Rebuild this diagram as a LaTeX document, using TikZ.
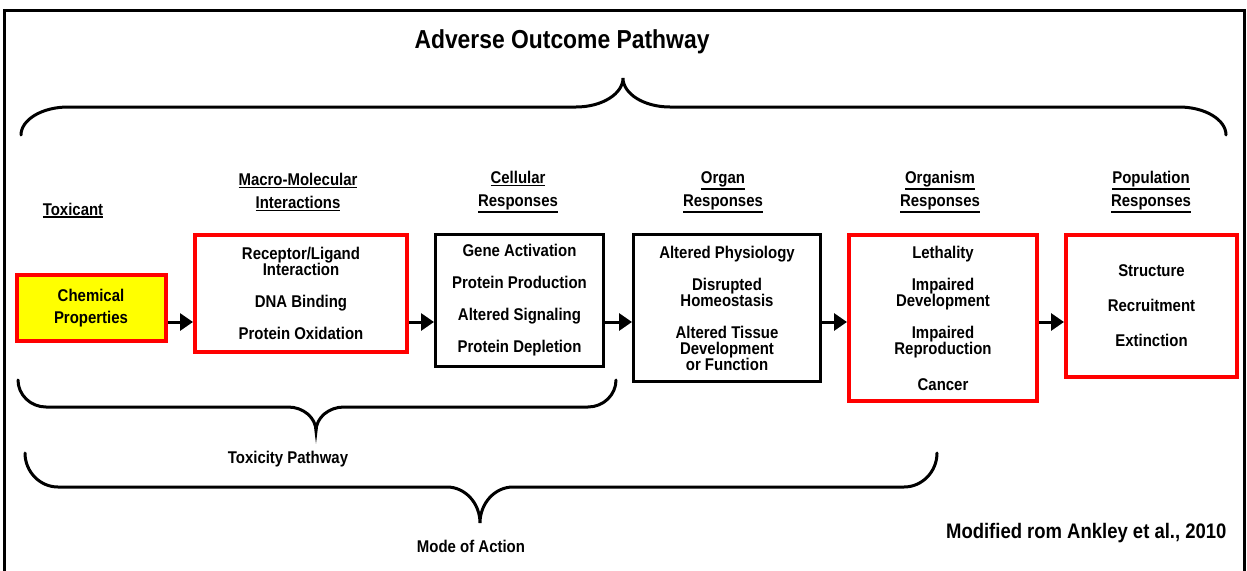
\documentclass[tikz,border=0pt]{standalone}
\usepackage{fontspec}
\setmainfont{Liberation Sans}[FakeStretch=0.88]
\usetikzlibrary{arrows.meta}

\definecolor{aopred}{RGB}{255,0,0}
\definecolor{aopyellow}{RGB}{255,255,0}

\newcommand{\ulbar}[1]{\vtop{\hbox{#1}\kern1.2pt\hrule height 1.4pt}}
\newcommand{\boxfont}{\fontsize{17}{16}\selectfont\bfseries}
\newcommand{\headfont}{\fontsize{17}{23}\selectfont\bfseries}
% brace: left x, right x, end y, bar y, tip x, tip y, curve width
\newcommand{\curlybrace}[7]{%
  \draw[brace] (#1,#3) .. controls (#1,{#4+0.45*(#3-#4)}) and ({#1+0.45*#7},#4) .. ({#1+#7},#4)
    -- ({#5-#7},#4) .. controls ({#5-0.45*#7},#4) and (#5,{#6+0.55*(#4-#6)}) .. (#5,#6)
    .. controls (#5,{#6+0.55*(#4-#6)}) and ({#5+0.45*#7},#4) .. ({#5+#7},#4)
    -- ({#2-#7},#4) .. controls ({#2-0.45*#7},#4) and (#2,{#4+0.45*(#3-#4)}) .. (#2,#3);}

\begin{document}
\begin{tikzpicture}[x=1pt, y=-1pt,
    redbox/.style={draw=aopred, line width=4pt, inner sep=0pt, align=center, font=\boxfont},
    blackbox/.style={draw=black, line width=3pt, inner sep=0pt, align=center, font=\boxfont},
    header/.style={align=center, font=\headfont},
    flow/.style={-{Triangle[length=13pt,width=17pt]}, line width=3pt},
    brace/.style={line width=3pt, line cap=round}]
    \useasboundingbox (0,0) rectangle (1247,570);
    \draw[line width=3pt] (4,572) -- (4,10) -- (1244,10) -- (1244,572);

    \node[font=\fontsize{26}{28}\selectfont\bfseries, anchor=base] (title) at (562,48) {Adverse Outcome Pathway};
    \curlybrace{21}{1226}{135}{107}{623}{78}{47}

    % column headers
    \node[header, anchor=base] (htox) at (73,215) {\ulbar{Toxicant}};
    \node[header] (hmacro) at (298,192) {\ulbar{Macro-Molecular}\\\ulbar{Interactions}};
    \node[header] (hcell) at (518,192) {\ulbar{Cellular}\\\ulbar{Responses}};
    \node[header] (horgan) at (723,192) {\ulbar{Organ}\\\ulbar{Responses}};
    \node[header] (horganism) at (940,192) {\ulbar{Organism}\\\ulbar{Responses}};
    \node[header] (hpop) at (1151,192) {\ulbar{Population}\\\ulbar{Responses}};

    % boxes
    \node[redbox, fill=aopyellow, minimum width=149pt, minimum height=66pt] (chem) at (91,308)
        {Chemical\\[6pt]Properties};
    \node[redbox, minimum width=212pt, minimum height=117pt] (macro) at (301,293.5)
        {Receptor/Ligand\\Interaction\\[16pt]DNA Binding\\[16pt]Protein Oxidation};
    \node[blackbox, minimum width=168pt, minimum height=132pt] (cell) at (519.5,300.5)
        {Gene Activation\\[16pt]Protein Production\\[16pt]Altered Signaling\\[16pt]Protein Depletion};
    \node[blackbox, minimum width=187pt, minimum height=147pt] (organ) at (727,308)
        {Altered Physiology\\[16pt]Disrupted\\Homeostasis\\[16pt]Altered Tissue\\Development\\or Function};
    \node[redbox, minimum width=188pt, minimum height=166pt] (organism) at (943,318)
        {Lethality\\[16pt]Impaired\\Development\\[16pt]Impaired\\Reproduction\\[20pt]Cancer};
    \node[redbox, minimum width=171pt, minimum height=142pt] (pop) at (1151.5,306)
        {Structure\\[19pt]Recruitment\\[19pt]Extinction};

    \coordinate (arrowrow) at (0,322);
    \draw[flow] (chem.east |- arrowrow) -- (macro.west |- arrowrow);
    \draw[flow] (macro.east |- arrowrow) -- (cell.west |- arrowrow);
    \draw[flow] (cell.east |- arrowrow) -- (organ.west |- arrowrow);
    \draw[flow] (organ.east |- arrowrow) -- (organism.west |- arrowrow);
    \draw[flow] (organism.east |- arrowrow) -- (pop.west |- arrowrow);

    % lower braces
    \curlybrace{18}{616}{380}{407}{316}{431}{28}
    \node[font=\boxfont, anchor=base] (toxpath) at (288,463) {Toxicity Pathway};
    \curlybrace{25}{937}{453}{487}{480}{523}{33}
    \node[font=\boxfont, anchor=base] (moa) at (471,552) {Mode of Action};

    \node[font=\fontsize{21}{22}\selectfont\bfseries, anchor=base east] (credit) at (1230,538)
        {Modified rom Ankley et al., 2010};
\end{tikzpicture}
\end{document}
